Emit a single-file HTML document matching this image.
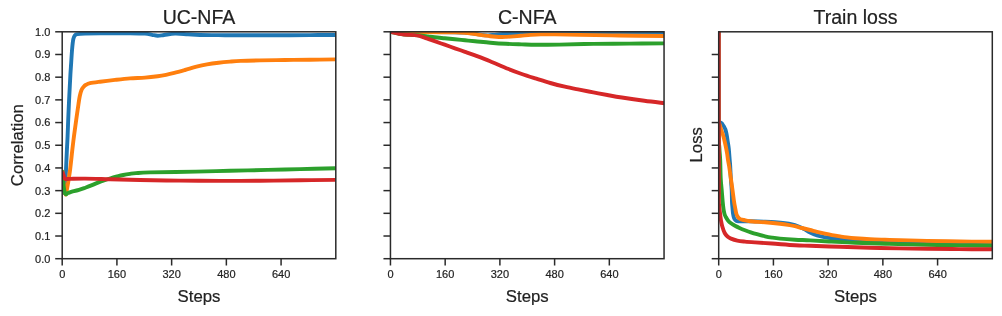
<!DOCTYPE html>
<html><head><meta charset="utf-8"><title>chart</title>
<style>
html,body{margin:0;padding:0;background:#fff;}
body{width:1002px;height:316px;overflow:hidden;font-family:"Liberation Sans",sans-serif;}
svg{display:block;will-change:transform;}
text{font-family:"Liberation Sans",sans-serif;fill:#222;stroke:#222;stroke-width:0.2px;}
.t{font-size:11px;}
.l{font-size:16.75px;}
.h{font-size:19.55px;}
</style></head><body>
<svg width="1002" height="316" viewBox="0 0 1002 316">
<rect width="1002" height="316" fill="#fff"/>
<clipPath id="c0"><rect x="62.2" y="31.3" width="273.6" height="227.39999999999998"/></clipPath>
<g clip-path="url(#c0)" fill="none" stroke-width="3.9" stroke-linejoin="round" stroke-linecap="butt">
<path d="M62.30,170.00 C62.47,171.67 62.92,176.25 63.30,180.00 C63.68,183.75 64.28,190.83 64.60,192.50 C64.92,194.17 64.98,193.42 65.20,190.00 C65.42,186.58 65.62,178.67 65.90,172.00 C66.18,165.33 66.62,156.00 66.90,150.00 C67.18,144.00 67.38,141.00 67.60,136.00 C67.82,131.00 67.98,125.33 68.20,120.00 C68.42,114.67 68.72,108.00 68.90,104.00 C69.08,100.00 69.05,100.90 69.30,96.00 C69.55,91.10 70.10,79.93 70.40,74.60 C70.70,69.27 70.82,68.22 71.10,64.00 C71.38,59.78 71.73,53.43 72.10,49.30 C72.47,45.17 72.82,41.55 73.30,39.20 C73.78,36.85 74.30,36.05 75.00,35.20 C75.70,34.35 75.83,34.37 77.50,34.10 C79.17,33.83 81.25,33.73 85.00,33.60 C88.75,33.47 92.50,33.37 100.00,33.30 C107.50,33.23 122.50,33.15 130.00,33.20 C137.50,33.25 141.33,33.33 145.00,33.60 C148.67,33.87 149.88,34.45 152.00,34.80 C154.12,35.15 155.70,35.67 157.70,35.70 C159.70,35.73 161.12,35.35 164.00,35.00 C166.88,34.65 171.00,33.72 175.00,33.60 C179.00,33.48 183.83,34.07 188.00,34.30 C192.17,34.53 193.83,34.85 200.00,35.00 C206.17,35.15 216.67,35.15 225.00,35.20 C233.33,35.25 240.83,35.28 250.00,35.30 C259.17,35.32 270.00,35.33 280.00,35.30 C290.00,35.27 300.67,35.15 310.00,35.10 C319.33,35.05 331.67,35.02 336.00,35.00" stroke="#1f77b4"/>
<path d="M62.30,170.00 C62.55,172.50 63.30,181.00 63.80,185.00 C64.30,189.00 64.83,193.00 65.30,194.00 C65.77,195.00 65.85,194.67 66.60,191.00 C67.35,187.33 68.85,178.83 69.80,172.00 C70.75,165.17 71.60,156.00 72.30,150.00 C73.00,144.00 73.35,141.00 74.00,136.00 C74.65,131.00 75.45,125.33 76.20,120.00 C76.95,114.67 77.90,108.00 78.50,104.00 C79.10,100.00 79.30,98.33 79.80,96.00 C80.30,93.67 80.88,91.52 81.50,90.00 C82.12,88.48 82.75,87.77 83.50,86.90 C84.25,86.03 84.92,85.42 86.00,84.80 C87.08,84.18 87.67,83.72 90.00,83.20 C92.33,82.68 95.83,82.25 100.00,81.70 C104.17,81.15 110.00,80.45 115.00,79.90 C120.00,79.35 125.00,78.78 130.00,78.40 C135.00,78.02 140.38,77.97 145.00,77.60 C149.62,77.23 154.20,76.67 157.70,76.20 C161.20,75.73 163.23,75.35 166.00,74.80 C168.77,74.25 171.13,73.70 174.30,72.90 C177.47,72.10 181.30,71.03 185.00,70.00 C188.70,68.97 192.83,67.63 196.50,66.70 C200.17,65.77 203.32,65.07 207.00,64.40 C210.68,63.73 214.77,63.17 218.60,62.70 C222.43,62.23 226.30,61.90 230.00,61.60 C233.70,61.30 235.80,61.10 240.80,60.90 C245.80,60.70 252.63,60.55 260.00,60.40 C267.37,60.25 276.67,60.12 285.00,60.00 C293.33,59.88 301.50,59.80 310.00,59.70 C318.50,59.60 331.67,59.45 336.00,59.40" stroke="#ff7f0e"/>
<path d="M62.20,170.40 C62.42,172.83 62.98,181.08 63.50,185.00 C64.02,188.92 64.55,192.57 65.30,193.90 C66.05,195.23 66.77,193.42 68.00,193.00 C69.23,192.58 70.87,191.92 72.70,191.40 C74.53,190.88 76.90,190.52 79.00,189.91 C81.10,189.30 83.13,188.52 85.30,187.73 C87.47,186.94 89.88,186.02 92.00,185.17 C94.12,184.32 96.00,183.42 98.00,182.63 C100.00,181.84 101.90,181.13 104.00,180.40 C106.10,179.67 108.43,178.90 110.60,178.25 C112.77,177.60 114.88,177.05 117.00,176.50 C119.12,175.95 121.13,175.42 123.30,174.98 C125.47,174.54 127.88,174.15 130.00,173.84 C132.12,173.53 132.67,173.39 136.00,173.15 C139.33,172.91 140.00,172.66 150.00,172.40 C160.00,172.14 182.67,171.87 196.00,171.60 C209.33,171.33 218.05,171.08 230.00,170.80 C241.95,170.52 256.03,170.18 267.70,169.90 C279.37,169.62 288.62,169.38 300.00,169.10 C311.38,168.82 330.00,168.35 336.00,168.20" stroke="#2ca02c"/>
<path d="M62.20,171.60 C62.42,172.17 63.12,173.93 63.50,175.00 C63.88,176.07 64.13,177.33 64.50,178.00 C64.87,178.67 64.78,178.85 65.70,179.00 C66.62,179.15 66.78,178.97 70.00,178.90 C73.22,178.83 78.33,178.55 85.00,178.60 C91.67,178.65 100.83,178.97 110.00,179.20 C119.17,179.43 128.33,179.77 140.00,180.00 C151.67,180.23 166.67,180.45 180.00,180.60 C193.33,180.75 206.67,180.88 220.00,180.90 C233.33,180.92 246.67,180.80 260.00,180.70 C273.33,180.60 287.33,180.43 300.00,180.30 C312.67,180.17 330.00,179.97 336.00,179.90" stroke="#d62728"/>
</g>
<g stroke="#2a2a2a" stroke-width="1.5" fill="none">
<rect x="62.2" y="31.8" width="273.6" height="226.89999999999998"/>
<line x1="55.2" y1="258.70" x2="62.2" y2="258.70"/>
<line x1="55.2" y1="236.01" x2="62.2" y2="236.01"/>
<line x1="55.2" y1="213.32" x2="62.2" y2="213.32"/>
<line x1="55.2" y1="190.63" x2="62.2" y2="190.63"/>
<line x1="55.2" y1="167.94" x2="62.2" y2="167.94"/>
<line x1="55.2" y1="145.25" x2="62.2" y2="145.25"/>
<line x1="55.2" y1="122.56" x2="62.2" y2="122.56"/>
<line x1="55.2" y1="99.87" x2="62.2" y2="99.87"/>
<line x1="55.2" y1="77.18" x2="62.2" y2="77.18"/>
<line x1="55.2" y1="54.49" x2="62.2" y2="54.49"/>
<line x1="55.2" y1="31.80" x2="62.2" y2="31.80"/>
<line x1="62.20" y1="258.7" x2="62.20" y2="265.5"/>
<line x1="116.92" y1="258.7" x2="116.92" y2="265.5"/>
<line x1="171.64" y1="258.7" x2="171.64" y2="265.5"/>
<line x1="226.36" y1="258.7" x2="226.36" y2="265.5"/>
<line x1="281.08" y1="258.7" x2="281.08" y2="265.5"/>
</g>
<text class="t" x="62.20" y="278.3" text-anchor="middle">0</text>
<text class="t" x="116.92" y="278.3" text-anchor="middle">160</text>
<text class="t" x="171.64" y="278.3" text-anchor="middle">320</text>
<text class="t" x="226.36" y="278.3" text-anchor="middle">480</text>
<text class="t" x="281.08" y="278.3" text-anchor="middle">640</text>
<text class="t" x="50.400000000000006" y="262.60" text-anchor="end">0.0</text>
<text class="t" x="50.400000000000006" y="239.91" text-anchor="end">0.1</text>
<text class="t" x="50.400000000000006" y="217.22" text-anchor="end">0.2</text>
<text class="t" x="50.400000000000006" y="194.53" text-anchor="end">0.3</text>
<text class="t" x="50.400000000000006" y="171.84" text-anchor="end">0.4</text>
<text class="t" x="50.400000000000006" y="149.15" text-anchor="end">0.5</text>
<text class="t" x="50.400000000000006" y="126.46" text-anchor="end">0.6</text>
<text class="t" x="50.400000000000006" y="103.77" text-anchor="end">0.7</text>
<text class="t" x="50.400000000000006" y="81.08" text-anchor="end">0.8</text>
<text class="t" x="50.400000000000006" y="58.39" text-anchor="end">0.9</text>
<text class="t" x="50.400000000000006" y="35.70" text-anchor="end">1.0</text>
<text class="h" x="199.00" y="24" text-anchor="middle">UC-NFA</text>
<text class="l" x="199.00" y="302.3" text-anchor="middle">Steps</text>
<clipPath id="c1"><rect x="390.45" y="31.3" width="273.59999999999997" height="227.39999999999998"/></clipPath>
<g clip-path="url(#c1)" fill="none" stroke-width="3.9" stroke-linejoin="round" stroke-linecap="butt">
<path d="M390.35,32.00 C395.18,32.00 408.58,31.97 419.35,32.00 C430.12,32.03 447.23,32.08 455.00,32.20 C462.77,32.32 462.67,32.43 466.00,32.70 C469.33,32.97 472.33,33.42 475.00,33.80 C477.67,34.18 479.83,34.73 482.00,35.00 C484.17,35.27 486.00,35.42 488.00,35.40 C490.00,35.38 492.00,35.10 494.00,34.90 C496.00,34.70 497.33,34.40 500.00,34.20 C502.67,34.00 506.67,33.85 510.00,33.70 C513.33,33.55 515.83,33.45 520.00,33.30 C524.17,33.15 530.00,32.95 535.00,32.80 C540.00,32.65 544.17,32.50 550.00,32.40 C555.83,32.30 561.77,32.23 570.00,32.20 C578.23,32.17 587.68,32.18 599.35,32.20 C611.02,32.22 629.17,32.27 640.00,32.30 C650.83,32.33 660.29,32.38 664.35,32.40" stroke="#1f77b4"/>
<path d="M390.35,32.00 C395.18,32.02 411.08,32.07 419.35,32.10 C427.62,32.13 434.06,32.15 440.00,32.20 C445.94,32.25 450.83,32.30 455.00,32.40 C459.17,32.50 462.17,32.60 465.00,32.80 C467.83,33.00 469.83,33.30 472.00,33.60 C474.17,33.90 476.00,34.30 478.00,34.60 C480.00,34.90 481.97,35.13 484.00,35.40 C486.03,35.67 488.20,35.98 490.20,36.20 C492.20,36.42 494.13,36.58 496.00,36.70 C497.87,36.83 499.73,36.93 501.40,36.95 C503.07,36.98 504.48,36.91 506.00,36.85 C507.52,36.79 508.07,36.78 510.50,36.60 C512.93,36.42 517.23,36.08 520.60,35.80 C523.97,35.52 527.32,35.13 530.70,34.90 C534.08,34.67 536.85,34.48 540.90,34.40 C544.95,34.32 548.59,34.32 555.00,34.40 C561.41,34.48 568.62,34.72 579.35,34.90 C590.08,35.08 605.18,35.32 619.35,35.50 C633.52,35.68 656.85,35.92 664.35,36.00" stroke="#ff7f0e"/>
<path d="M390.35,31.70 C390.98,31.87 392.62,32.33 394.10,32.70 C395.58,33.07 397.52,33.60 399.20,33.90 C400.88,34.20 401.67,34.32 404.20,34.50 C406.73,34.68 411.43,34.82 414.40,35.00 C417.37,35.18 419.73,35.37 422.00,35.60 C424.27,35.83 425.90,36.12 428.00,36.40 C430.10,36.68 431.82,36.98 434.60,37.30 C437.38,37.62 441.32,37.97 444.70,38.30 C448.08,38.63 451.52,38.97 454.90,39.30 C458.28,39.63 461.63,39.98 465.00,40.30 C468.37,40.62 470.88,40.80 475.10,41.20 C479.33,41.60 485.21,42.27 490.35,42.70 C495.49,43.13 500.72,43.52 505.95,43.80 C511.18,44.08 516.68,44.23 521.75,44.40 C526.82,44.57 530.08,44.77 536.35,44.80 C542.62,44.83 549.85,44.75 559.35,44.60 C568.85,44.45 581.68,44.07 593.35,43.90 C605.02,43.73 617.52,43.68 629.35,43.60 C641.18,43.52 658.52,43.43 664.35,43.40" stroke="#2ca02c"/>
<path d="M390.35,31.70 C390.98,31.87 392.62,32.33 394.10,32.70 C395.58,33.07 397.52,33.60 399.20,33.90 C400.88,34.20 402.57,34.35 404.20,34.50 C405.83,34.65 407.30,34.70 409.00,34.80 C410.70,34.90 412.67,34.92 414.40,35.10 C416.13,35.28 417.72,35.48 419.40,35.90 C421.08,36.32 422.82,37.02 424.50,37.60 C426.18,38.18 427.82,38.80 429.50,39.40 C431.18,40.00 432.07,40.32 434.60,41.20 C437.13,42.08 441.32,43.52 444.70,44.70 C448.08,45.88 451.52,47.12 454.90,48.30 C458.28,49.48 461.63,50.62 465.00,51.80 C468.37,52.98 470.91,53.83 475.10,55.40 C479.29,56.97 484.69,58.97 490.15,61.20 C495.61,63.43 502.58,66.67 507.85,68.80 C513.12,70.93 517.00,72.35 521.75,74.00 C526.50,75.65 531.58,77.20 536.35,78.70 C541.12,80.20 545.60,81.67 550.35,83.00 C555.10,84.33 560.02,85.58 564.85,86.70 C569.68,87.82 574.60,88.75 579.35,89.70 C584.10,90.65 588.68,91.52 593.35,92.40 C598.02,93.28 602.60,94.15 607.35,95.00 C612.10,95.85 615.68,96.53 621.85,97.50 C628.02,98.47 637.27,99.85 644.35,100.80 C651.43,101.75 661.02,102.80 664.35,103.20" stroke="#d62728"/>
</g>
<g stroke="#2a2a2a" stroke-width="1.5" fill="none">
<rect x="390.45" y="31.8" width="273.59999999999997" height="226.89999999999998"/>
<line x1="383.45" y1="258.70" x2="390.45" y2="258.70"/>
<line x1="383.45" y1="236.01" x2="390.45" y2="236.01"/>
<line x1="383.45" y1="213.32" x2="390.45" y2="213.32"/>
<line x1="383.45" y1="190.63" x2="390.45" y2="190.63"/>
<line x1="383.45" y1="167.94" x2="390.45" y2="167.94"/>
<line x1="383.45" y1="145.25" x2="390.45" y2="145.25"/>
<line x1="383.45" y1="122.56" x2="390.45" y2="122.56"/>
<line x1="383.45" y1="99.87" x2="390.45" y2="99.87"/>
<line x1="383.45" y1="77.18" x2="390.45" y2="77.18"/>
<line x1="383.45" y1="54.49" x2="390.45" y2="54.49"/>
<line x1="383.45" y1="31.80" x2="390.45" y2="31.80"/>
<line x1="390.45" y1="258.7" x2="390.45" y2="265.5"/>
<line x1="445.17" y1="258.7" x2="445.17" y2="265.5"/>
<line x1="499.89" y1="258.7" x2="499.89" y2="265.5"/>
<line x1="554.61" y1="258.7" x2="554.61" y2="265.5"/>
<line x1="609.33" y1="258.7" x2="609.33" y2="265.5"/>
</g>
<text class="t" x="390.45" y="278.3" text-anchor="middle">0</text>
<text class="t" x="445.17" y="278.3" text-anchor="middle">160</text>
<text class="t" x="499.89" y="278.3" text-anchor="middle">320</text>
<text class="t" x="554.61" y="278.3" text-anchor="middle">480</text>
<text class="t" x="609.33" y="278.3" text-anchor="middle">640</text>
<text class="h" x="527.25" y="24" text-anchor="middle">C-NFA</text>
<text class="l" x="527.25" y="302.3" text-anchor="middle">Steps</text>
<clipPath id="c2"><rect x="718.7" y="31.3" width="273.5999999999999" height="227.39999999999998"/></clipPath>
<g clip-path="url(#c2)" fill="none" stroke-width="3.9" stroke-linejoin="round" stroke-linecap="butt">
<path d="M718.70,122.50 C719.00,122.53 719.98,122.53 720.50,122.70 C721.02,122.87 721.40,123.12 721.80,123.50 C722.20,123.88 722.52,124.45 722.90,125.00 C723.28,125.55 723.72,126.13 724.10,126.80 C724.48,127.47 724.85,128.05 725.20,129.00 C725.55,129.95 725.92,131.33 726.20,132.50 C726.48,133.67 726.63,134.42 726.90,136.00 C727.17,137.58 727.50,140.00 727.80,142.00 C728.10,144.00 728.38,145.00 728.70,148.00 C729.02,151.00 729.45,157.00 729.70,160.00 C729.95,163.00 730.02,163.00 730.20,166.00 C730.38,169.00 730.55,174.00 730.80,178.00 C731.05,182.00 731.50,186.00 731.70,190.00 C731.90,194.00 731.87,199.00 732.00,202.00 C732.13,205.00 732.32,206.00 732.50,208.00 C732.68,210.00 732.82,212.25 733.10,214.00 C733.38,215.75 733.68,217.37 734.20,218.50 C734.72,219.63 735.40,220.33 736.20,220.80 C737.00,221.27 737.53,221.23 739.00,221.30 C740.47,221.37 743.17,221.20 745.00,221.20 C746.83,221.20 746.67,221.20 750.00,221.30 C753.33,221.40 760.83,221.63 765.00,221.80 C769.17,221.97 771.67,222.07 775.00,222.30 C778.33,222.53 782.17,222.85 785.00,223.20 C787.83,223.55 789.83,223.88 792.00,224.40 C794.17,224.92 796.00,225.53 798.00,226.30 C800.00,227.07 802.00,227.97 804.00,229.00 C806.00,230.03 807.83,231.43 810.00,232.50 C812.17,233.57 814.50,234.62 817.00,235.40 C819.50,236.18 822.50,236.72 825.00,237.20 C827.50,237.68 829.50,238.00 832.00,238.30 C834.50,238.60 836.00,238.67 840.00,239.00 C844.00,239.33 849.33,239.92 856.00,240.30 C862.67,240.68 868.00,240.85 880.00,241.30 C892.00,241.75 909.27,242.55 928.00,243.00 C946.73,243.45 981.67,243.83 992.40,244.00" stroke="#1f77b4"/>
<path d="M718.70,122.80 C718.85,123.08 719.30,123.72 719.60,124.50 C719.90,125.28 720.17,126.42 720.50,127.50 C720.83,128.58 721.13,129.58 721.60,131.00 C722.07,132.42 722.77,134.17 723.30,136.00 C723.83,137.83 724.33,140.00 724.80,142.00 C725.27,144.00 725.70,146.00 726.10,148.00 C726.50,150.00 726.88,152.00 727.20,154.00 C727.52,156.00 727.68,158.00 728.00,160.00 C728.32,162.00 728.63,163.00 729.10,166.00 C729.57,169.00 730.23,174.00 730.80,178.00 C731.37,182.00 731.95,186.00 732.50,190.00 C733.05,194.00 733.65,199.00 734.10,202.00 C734.55,205.00 734.82,206.00 735.20,208.00 C735.58,210.00 735.88,212.42 736.40,214.00 C736.92,215.58 737.62,216.63 738.30,217.50 C738.98,218.37 739.55,218.78 740.50,219.20 C741.45,219.62 742.42,219.65 744.00,220.00 C745.58,220.35 746.50,220.92 750.00,221.30 C753.50,221.68 760.00,221.90 765.00,222.30 C770.00,222.70 776.17,223.28 780.00,223.70 C783.83,224.12 785.50,224.38 788.00,224.80 C790.50,225.22 792.67,225.67 795.00,226.20 C797.33,226.73 799.50,227.37 802.00,228.00 C804.50,228.63 807.50,229.35 810.00,230.00 C812.50,230.65 814.50,231.28 817.00,231.90 C819.50,232.52 822.50,233.17 825.00,233.70 C827.50,234.23 829.50,234.65 832.00,235.10 C834.50,235.55 837.50,236.02 840.00,236.40 C842.50,236.78 844.50,237.10 847.00,237.40 C849.50,237.70 851.17,237.90 855.00,238.20 C858.83,238.50 865.00,238.95 870.00,239.20 C875.00,239.45 880.00,239.55 885.00,239.70 C890.00,239.85 893.00,239.90 900.00,240.10 C907.00,240.30 917.00,240.67 927.00,240.90 C937.00,241.13 949.10,241.35 960.00,241.50 C970.90,241.65 987.00,241.75 992.40,241.80" stroke="#ff7f0e"/>
<path d="M718.70,30.00 C718.72,46.67 718.68,110.33 718.80,130.00 C718.92,149.67 719.17,143.00 719.40,148.00 C719.63,153.00 719.98,155.00 720.20,160.00 C720.42,165.00 720.45,173.00 720.70,178.00 C720.95,183.00 721.37,186.00 721.70,190.00 C722.03,194.00 722.40,198.83 722.70,202.00 C723.00,205.17 723.20,207.00 723.50,209.00 C723.80,211.00 724.12,212.67 724.50,214.00 C724.88,215.33 725.22,215.93 725.80,217.00 C726.38,218.07 727.13,219.35 728.00,220.40 C728.87,221.45 729.83,222.40 731.00,223.30 C732.17,224.20 733.50,224.98 735.00,225.80 C736.50,226.62 738.33,227.47 740.00,228.20 C741.67,228.93 743.20,229.52 745.00,230.20 C746.80,230.88 748.80,231.63 750.80,232.30 C752.80,232.97 754.63,233.53 757.00,234.20 C759.37,234.87 762.50,235.73 765.00,236.30 C767.50,236.87 769.50,237.22 772.00,237.60 C774.50,237.98 776.17,238.25 780.00,238.60 C783.83,238.95 790.00,239.40 795.00,239.70 C800.00,240.00 803.93,240.08 810.00,240.40 C816.07,240.72 823.83,241.23 831.40,241.63 C838.97,242.03 845.73,242.45 855.40,242.82 C865.07,243.19 877.40,243.53 889.40,243.87 C901.40,244.21 915.73,244.58 927.40,244.83 C939.07,245.08 948.57,245.20 959.40,245.36 C970.23,245.52 986.90,245.73 992.40,245.80" stroke="#2ca02c"/>
<path d="M718.80,30.00 C718.81,56.67 718.78,160.83 718.85,190.00 C718.92,219.17 718.99,201.00 719.20,205.00 C719.41,209.00 719.80,211.42 720.10,214.00 C720.40,216.58 720.63,218.42 721.00,220.50 C721.37,222.58 721.68,224.42 722.30,226.50 C722.92,228.58 723.83,231.33 724.70,233.00 C725.57,234.67 726.45,235.57 727.50,236.50 C728.55,237.43 729.37,237.92 731.00,238.60 C732.63,239.28 734.97,240.10 737.30,240.60 C739.63,241.10 742.05,241.30 745.00,241.60 C747.95,241.90 750.50,242.08 755.00,242.40 C759.50,242.72 765.33,243.03 772.00,243.50 C778.67,243.97 788.67,244.82 795.00,245.20 C801.33,245.58 802.50,245.53 810.00,245.80 C817.50,246.07 830.00,246.48 840.00,246.80 C850.00,247.12 860.00,247.43 870.00,247.70 C880.00,247.97 890.50,248.22 900.00,248.40 C909.50,248.58 917.17,248.68 927.00,248.80 C936.83,248.92 948.10,249.02 959.00,249.10 C969.90,249.18 986.83,249.27 992.40,249.30" stroke="#d62728"/>
</g>
<g stroke="#2a2a2a" stroke-width="1.5" fill="none">
<rect x="718.7" y="31.8" width="273.5999999999999" height="226.89999999999998"/>
<line x1="711.7" y1="258.70" x2="718.7" y2="258.70"/>
<line x1="711.7" y1="236.01" x2="718.7" y2="236.01"/>
<line x1="711.7" y1="213.32" x2="718.7" y2="213.32"/>
<line x1="711.7" y1="190.63" x2="718.7" y2="190.63"/>
<line x1="711.7" y1="167.94" x2="718.7" y2="167.94"/>
<line x1="711.7" y1="145.25" x2="718.7" y2="145.25"/>
<line x1="711.7" y1="122.56" x2="718.7" y2="122.56"/>
<line x1="711.7" y1="99.87" x2="718.7" y2="99.87"/>
<line x1="711.7" y1="77.18" x2="718.7" y2="77.18"/>
<line x1="711.7" y1="54.49" x2="718.7" y2="54.49"/>
<line x1="718.70" y1="258.7" x2="718.70" y2="265.5"/>
<line x1="773.42" y1="258.7" x2="773.42" y2="265.5"/>
<line x1="828.14" y1="258.7" x2="828.14" y2="265.5"/>
<line x1="882.86" y1="258.7" x2="882.86" y2="265.5"/>
<line x1="937.58" y1="258.7" x2="937.58" y2="265.5"/>
</g>
<text class="t" x="718.70" y="278.3" text-anchor="middle">0</text>
<text class="t" x="773.42" y="278.3" text-anchor="middle">160</text>
<text class="t" x="828.14" y="278.3" text-anchor="middle">320</text>
<text class="t" x="882.86" y="278.3" text-anchor="middle">480</text>
<text class="t" x="937.58" y="278.3" text-anchor="middle">640</text>
<text class="h" x="855.50" y="24" text-anchor="middle">Train loss</text>
<text class="l" x="855.50" y="302.3" text-anchor="middle">Steps</text>
<text class="l" transform="translate(22.9,145.2) rotate(-90)" text-anchor="middle">Correlation</text>
<text class="l" transform="translate(701.5,144.8) rotate(-90)" text-anchor="middle">Loss</text>
</svg></body></html>
